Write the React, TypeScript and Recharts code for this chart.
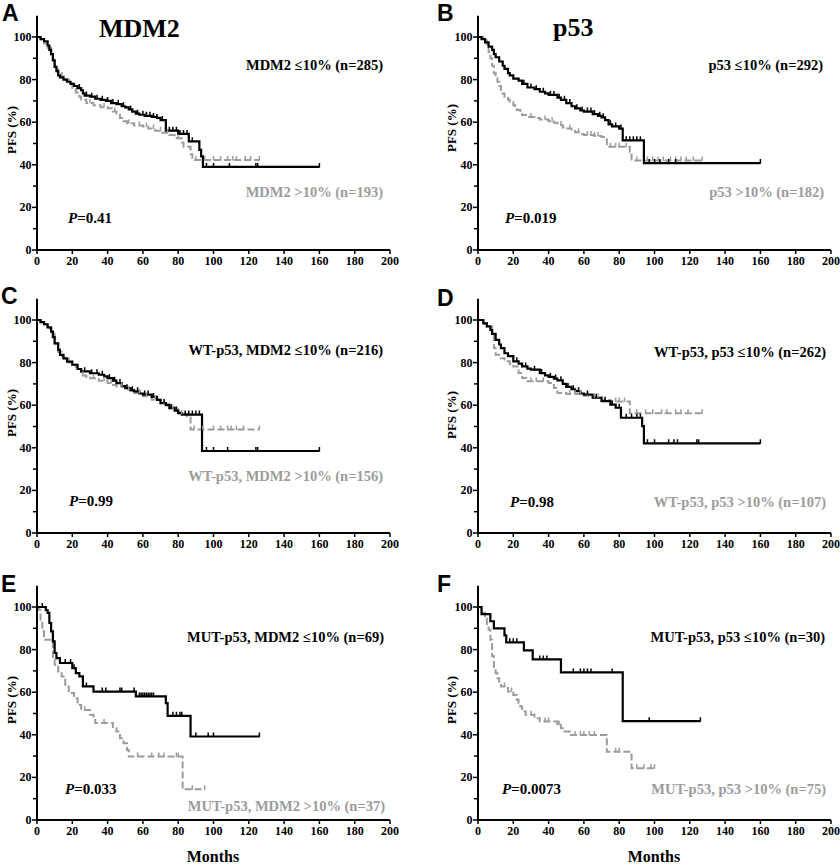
import React from 'react';
import { ComposedChart, Line, Scatter, XAxis, YAxis } from 'recharts';

type Pt = [number, number];

const xTicks = [0, 20, 40, 60, 80, 100, 120, 140, 160, 180, 200];
const yTicks = [0, 10, 20, 30, 40, 50, 60, 70, 80, 90, 100];

// Panel A: MDM2
const aLowSteps: Pt[] = [[0,100],[2,99],[4,98],[6,96],[7,94],[8,92],[9,89],[10,86],[11,84],[12,82],[13,81],[15,80],[17,79],[19,78],[21,77],[23,76],[25,75],[26,73.5],[27,72.5],[30,72],[33,71],[36,70.5],[39,70],[42,69],[45,68.5],[48,67.5],[50,67],[52,66],[54,65],[56,64],[58,63.5],[61,63],[65,62.5],[68,62],[70,61],[73,56],[80,54.5],[86,51],[92,47],[93,44],[94,39]];
const aLowCens = [24,28,31,34,37,40,43,46,49,53,57,60,62,64,66,68,71,75,77,79,81,83,85,88,96,100,109,124,125,160];
const aHighSteps: Pt[] = [[0,100],[2,99],[4,97],[6,95],[8,92],[9,89],[10,86],[11,85],[12,83],[14,81.5],[16,80],[18,78],[20,76],[22,74],[24,72],[25,70.5],[28,69],[32,68],[36,67],[40,66.5],[43,65],[45,63.5],[47,62],[49,60.5],[51,59.5],[55,58.5],[60,58],[63,57],[67,56],[71,55],[75,54],[78,52.5],[82,50.5],[83,48.5],[87,45],[88,42.3]];
const aHighCens = [30,38,44,52,58,62,66,70,74,80,90,95,100,104,108,111,113,118,121,126];

// Panel B: p53
const bLowSteps: Pt[] = [[0,100],[2,99],[4,97.5],[6,95.5],[8,94],[9,92],[10,90.5],[12,88.5],[14,86.5],[15,85],[17,83],[18,82],[20,80.5],[23,79.5],[25,78],[28,76.3],[32,75.5],[35,74.3],[38,73.5],[40,72.8],[45,71.5],[47,70.5],[50,69],[53,67.5],[55,66.5],[58,65.5],[60,65],[65,63.8],[68,63],[70,62.3],[72,61],[74,59],[76,58],[80,57],[82,51.5],[94,40.8]];
const bLowCens = [26,30,33,37,41,43,46,49,52,56,59,62,64,66,69,71,75,78,81,84,86,88,90,92,97,100,103,108,112,160];
const bHighSteps: Pt[] = [[0,100],[3,98.5],[5,96],[6,93],[7,90],[8,86.5],[9,83],[10,80.6],[11,79],[12,77],[13,73.5],[15,72],[17,70.5],[18,69.6],[20,68],[21,67],[22,65.7],[24,64.5],[25,63.4],[28,62.5],[32,62],[35,61.3],[40,60.5],[43,59.7],[45,58.7],[48,57.5],[50,57],[53,56],[55,55.3],[58,54.5],[60,54],[66,53.5],[70,53],[73,48.5],[86,46],[87,42]];
const bHighCens = [30,38,42,47,52,57,62,64,66,68,75,78,80,84,90,96,99,102,105,109,112,115,118,122,127];

// Panel C: WT-p53, MDM2
const cLowSteps: Pt[] = [[0,100],[2,99],[4,98],[6,96.5],[8,94.5],[9,92],[10,89],[12,86],[13,83.6],[15,82],[17,80.5],[20,79],[23,77],[25,75.9],[30,75],[35,74.3],[38,73.5],[40,72.7],[43,71.5],[45,70.4],[48,69],[50,68],[53,67],[55,66.5],[58,65.5],[60,65],[65,63.9],[68,62.5],[70,61],[73,60],[75,58.7],[78,57.5],[80,56.4],[82,55.6],[93.5,38.5]];
const cLowCens = [27,31,34,37,41,44,47,51,54,57,61,63,66,72,76,79,84,86,88,90,92,96,100,108,124,125,160];
const cHighSteps: Pt[] = [[0,100],[2,99],[4,98],[6,96],[8,93.5],[10,89],[12,85],[14,83],[15,82],[18,80],[20,79],[22,77],[25,74],[28,73],[30,72.7],[35,71.5],[40,70.4],[43,69.5],[45,68.8],[50,67.3],[55,65.7],[60,64.2],[65,62.6],[70,60.7],[75,58.3],[80,56],[85,54.8],[87,48.6]];
const cHighCens = [26,32,38,42,48,52,58,62,67,72,77,82,89,94,100,104,108,110,113,117,126];

// Panel D: WT-p53, p53
const dLowSteps: Pt[] = [[0,100],[3,98.4],[5,97],[7,95.3],[8,93.5],[10,90.7],[12,88.5],[13,86.8],[15,84.4],[17,83],[20,80.6],[23,79.5],[25,78.2],[28,77.2],[30,76.7],[35,75.1],[38,74],[40,73.3],[43,72.5],[45,71.7],[48,70],[50,68.6],[53,67.5],[55,66.6],[58,65.5],[60,65],[65,63.5],[70,61.9],[75,60.3],[78,58.8],[81,54.1],[93,50.2],[94,42.1]];
const dLowCens = [22,27,32,36,41,44,47,51,54,57,62,67,72,76,80,84,87,90,92,96,100,108,111,113,124,125,160];
const dHighSteps: Pt[] = [[0,100],[3,98.5],[5,96.9],[8,93.8],[9,86.8],[10,83.7],[12,82.1],[15,80.6],[18,79.4],[20,78.2],[23,75.1],[25,72.8],[28,71.2],[40,70.4],[43,68.1],[45,65.7],[50,65.3],[60,64.4],[65,63.7],[70,62.5],[75,61.7],[86,56.2]];
const dHighCens = [30,33,37,52,55,58,62,66,68,72,78,80,83,90,95,99,104,107,112,115,119,127];

// Panel E: MUT-p53, MDM2
const eLowSteps: Pt[] = [[0,100],[5,98.5],[6,97.2],[7,92.5],[8,88.6],[9,83.9],[10,78.4],[11,76],[13,73.7],[20,71.3],[22,69],[24,67.4],[26,62.7],[32,60.3],[56,58],[73,54.9],[74,48.9],[87,39.2]];
const eLowCens = [3,16,19,21,28,37,39,47,48,55,58,59,60,61,62,63,64,65,66,77,79,81,82,90,97,100,126];
const eHighSteps: Pt[] = [[0,100],[1,98.7],[2,94],[3,88.6],[4,84.6],[9,75.2],[10,72.9],[12,69.7],[14,67.4],[16,62.7],[18,59.6],[21,57.2],[23,54],[25,51.7],[30,49.4],[32,47],[33,45.5],[43,43.1],[45,41.5],[47,38.4],[49,36],[51,32.9],[52,29.8],[82.5,14.4]];
const eHighCens = [27,38,57,65,69,72,79,80,88,95];

// Panel F: MUT-p53, p53
const fLowSteps: Pt[] = [[0,100],[2,96.7],[7,93.3],[9,90],[15,86.7],[16,83.4],[26,79.6],[31,75.4],[47,69.3],[82,46.4]];
const fLowCens = [18,20,22,35,37,39,54,58,60,62,64,76,97,126];
const fHighSteps: Pt[] = [[0,100],[2,97.3],[4,94.6],[5,92],[6,89.3],[7,84.6],[8,77],[9,71.3],[10,68.9],[11,66.6],[12,64.2],[13,62.7],[17,60.3],[20,58.7],[22,56.4],[23,54.9],[24,53.3],[25,51],[27,49.4],[32,47.8],[35,46.2],[45,44.7],[47,43.1],[49,41.5],[52,39.9],[73,32.1],[87,24.3]];
const fHighCens = [15,19,30,38,40,45,46,55,58,60,63,66,78,80,90,94,98,100];

const SERIF = '"Liberation Serif", "Times New Roman", serif';
const SANS = '"Liberation Sans", Arial, sans-serif';
const GRAY = '#9c9c9c';

function levelAt(steps: Pt[], t: number) {
  let s = steps[0][1];
  for (const [tt, v] of steps) {
    if (tt <= t) s = v;
    else break;
  }
  return s;
}

function lineData(steps: Pt[], cens: number[]) {
  const last = steps[steps.length - 1];
  const end = Math.max(last[0], ...cens);
  const d = steps.map(([t, s]) => ({ t, s }));
  if (end > last[0]) d.push({ t: end, s: last[1] });
  return d;
}

function censData(steps: Pt[], cens: number[]) {
  return cens.map((t) => ({ t, s: levelAt(steps, t) }));
}

const YTick = (props: any) => {
  const { x, y, payload } = props;
  const v = payload.value;
  const major = v % 20 === 0;
  return (
    <g>
      <line x1={x - (major ? 5 : 4)} x2={x} y1={y} y2={y} stroke="#000" strokeWidth={1.5} />
      {major && (
        <text x={x - 5.5} y={y + 4} textAnchor="end" fontFamily={SERIF} fontWeight="bold" fontSize={12} fill="#000">
          {v}
        </text>
      )}
    </g>
  );
};

const XTick = (props: any) => {
  const { x, y, payload } = props;
  return (
    <g>
      <line x1={x} x2={x} y1={y} y2={y + 4} stroke="#000" strokeWidth={1.5} />
      <text x={x} y={y + 15} textAnchor="middle" fontFamily={SERIF} fontWeight="bold" fontSize={12} fill="#000">
        {payload.value}
      </text>
    </g>
  );
};

const censorShape = (color: string) => (props: any) => {
  const { cx, cy } = props;
  return <line x1={cx} x2={cx} y1={cy - 4} y2={cy + 0.5} stroke={color} strokeWidth={1.5} />;
};

type PanelProps = {
  left: number;
  top: number;
  low: Pt[];
  lowC: number[];
  high: Pt[];
  highC: number[];
};

function Panel({ left, top, low, lowC, high, highC }: PanelProps) {
  return (
    <div style={{ position: 'absolute', left, top }}>
      <ComposedChart width={399} height={290} margin={{ top: 15.7, right: 9, bottom: 10, left: 0 }}>
        <XAxis
          type="number"
          dataKey="t"
          domain={[0, 200]}
          ticks={xTicks}
          interval={0}
          tick={<XTick />}
          tickLine={false}
          tickSize={0}
          tickMargin={0}
          height={30}
          axisLine={{ stroke: '#000', strokeWidth: 2 }}
          allowDataOverflow
        />
        <YAxis
          type="number"
          dataKey="s"
          domain={[0, 110]}
          ticks={yTicks}
          interval={0}
          tick={<YTick />}
          tickLine={false}
          tickSize={0}
          tickMargin={0}
          width={37}
          axisLine={{ stroke: '#000', strokeWidth: 2 }}
          allowDataOverflow
        />
        <Line
          data={lineData(high, highC)}
          dataKey="s"
          type="stepAfter"
          stroke={GRAY}
          strokeWidth={2}
          strokeDasharray="7 3"
          dot={false}
          isAnimationActive={false}
        />
        <Scatter data={censData(high, highC)} dataKey="s" shape={censorShape(GRAY)} isAnimationActive={false} />
        <Line
          data={lineData(low, lowC)}
          dataKey="s"
          type="stepAfter"
          stroke="#000"
          strokeWidth={2.2}
          dot={false}
          isAnimationActive={false}
        />
        <Scatter data={censData(low, lowC)} dataKey="s" shape={censorShape('#000')} isAnimationActive={false} />
      </ComposedChart>
    </div>
  );
}

type TxtProps = {
  x: number;
  y: number;
  anchor?: 'start' | 'middle' | 'end';
  size?: number;
  fill?: string;
  children: React.ReactNode;
};

const Txt = ({ x, y, anchor = 'start', size = 14.5, fill = '#000', children }: TxtProps) => (
  <text x={x} y={y} textAnchor={anchor} fontFamily={SERIF} fontWeight="bold" fontSize={size} fill={fill}>
    {children}
  </text>
);

const PVal = ({ x, y, v }: { x: number; y: number; v: string }) => (
  <text x={x} y={y} fontFamily={SERIF} fontWeight="bold" fontSize={15} fill="#000">
    <tspan fontStyle="italic">P</tspan>={v}
  </text>
);

const Letter = ({ x, y, c }: { x: number; y: number; c: string }) => (
  <text x={x} y={y} fontFamily={SANS} fontWeight="bold" fontSize={23} fill="#000">
    {c}
  </text>
);

const PFS = ({ x, y }: { x: number; y: number }) => (
  <text
    x={x}
    y={y}
    transform={`rotate(-90 ${x} ${y})`}
    textAnchor="middle"
    dominantBaseline="central"
    fontFamily={SERIF}
    fontWeight="bold"
    fontSize={13}
    fill="#000"
  >
    PFS (%)
  </text>
);

export default function App() {
  return (
    <div style={{ position: 'absolute', left: 0, top: 0, width: 840, height: 865, background: '#fff', overflow: 'hidden' }}>
      <Panel left={0} top={0} low={aLowSteps} lowC={aLowCens} high={aHighSteps} highC={aHighCens} />
      <Panel left={441} top={0} low={bLowSteps} lowC={bLowCens} high={bHighSteps} highC={bHighCens} />
      <Panel left={0} top={283} low={cLowSteps} lowC={cLowCens} high={cHighSteps} highC={cHighCens} />
      <Panel left={441} top={283} low={dLowSteps} lowC={dLowCens} high={dHighSteps} highC={dHighCens} />
      <Panel left={0} top={570} low={eLowSteps} lowC={eLowCens} high={eHighSteps} highC={eHighCens} />
      <Panel left={441} top={570} low={fLowSteps} lowC={fLowCens} high={fHighSteps} highC={fHighCens} />
      <svg width={840} height={865} style={{ position: 'absolute', left: 0, top: 0, pointerEvents: 'none' }}>
        <Letter x={2} y={21} c="A" />
        <Letter x={437} y={21} c="B" />
        <Letter x={1} y={304} c="C" />
        <Letter x={437} y={306} c="D" />
        <Letter x={1} y={592} c="E" />
        <Letter x={437} y={592} c="F" />

        <Txt x={99} y={37} size={26}>MDM2</Txt>
        <Txt x={553} y={36} size={26}>p53</Txt>

        <Txt x={383} y={70} anchor="end">MDM2 ≤10% (n=285)</Txt>
        <Txt x={383} y={197} anchor="end" fill={GRAY}>MDM2 &gt;10% (n=193)</Txt>
        <PVal x={68} y={223} v="0.41" />

        <Txt x={823} y={70} anchor="end">p53 ≤10% (n=292)</Txt>
        <Txt x={824} y={197} anchor="end" fill={GRAY}>p53 &gt;10% (n=182)</Txt>
        <PVal x={505} y={223} v="0.019" />

        <Txt x={383} y={355} anchor="end">WT-p53, MDM2 ≤10% (n=216)</Txt>
        <Txt x={383} y={481} anchor="end" fill={GRAY}>WT-p53, MDM2 &gt;10% (n=156)</Txt>
        <PVal x={69} y={506} v="0.99" />

        <Txt x={826} y={357} anchor="end">WT-p53, p53 ≤10% (n=262)</Txt>
        <Txt x={826} y={507} anchor="end" fill={GRAY}>WT-p53, p53 &gt;10% (n=107)</Txt>
        <PVal x={510} y={507} v="0.98" />

        <Txt x={384} y={642} anchor="end">MUT-p53, MDM2 ≤10% (n=69)</Txt>
        <Txt x={385} y={811} anchor="end" fill={GRAY}>MUT-p53, MDM2 &gt;10% (n=37)</Txt>
        <PVal x={65} y={794} v="0.033" />

        <Txt x={825} y={642} anchor="end">MUT-p53, p53 ≤10% (n=30)</Txt>
        <Txt x={826} y={794} anchor="end" fill={GRAY}>MUT-p53, p53 &gt;10% (n=75)</Txt>
        <PVal x={502} y={794} v="0.0073" />

        <PFS x={11} y={130} />
        <PFS x={451} y={128} />
        <PFS x={11} y={413} />
        <PFS x={451} y={415} />
        <PFS x={11} y={700} />
        <PFS x={451} y={700} />

        <Txt x={213} y={862} anchor="middle" size={16}>Months</Txt>
        <Txt x={654} y={862} anchor="middle" size={16}>Months</Txt>
      </svg>
    </div>
  );
}
